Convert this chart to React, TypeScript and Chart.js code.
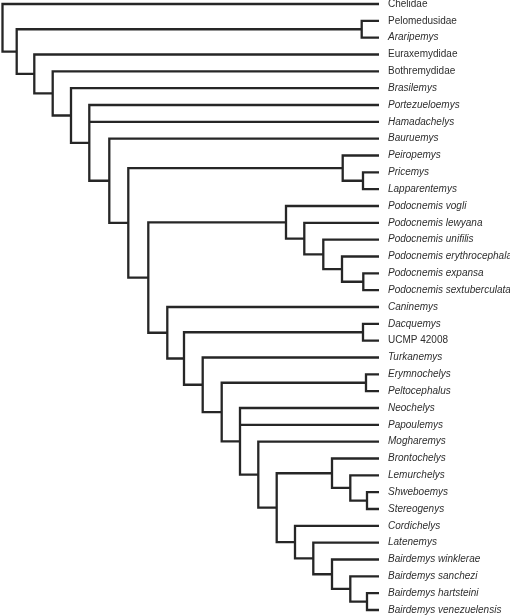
import React, { useEffect, useRef } from "react";
import { Chart, registerables } from "chart.js";

Chart.register(...registerables);

const TAXA = [
  "Chelidae",
  "Pelomedusidae",
  "Araripemys",
  "Euraxemydidae",
  "Bothremydidae",
  "Brasilemys",
  "Portezueloemys",
  "Hamadachelys",
  "Bauruemys",
  "Peiropemys",
  "Pricemys",
  "Lapparentemys",
  "Podocnemis vogli",
  "Podocnemis lewyana",
  "Podocnemis unifilis",
  "Podocnemis erythrocephala",
  "Podocnemis expansa",
  "Podocnemis sextuberculata",
  "Caninemys",
  "Dacquemys",
  "UCMP 42008",
  "Turkanemys",
  "Erymnochelys",
  "Peltocephalus",
  "Neochelys",
  "Papoulemys",
  "Mogharemys",
  "Brontochelys",
  "Lemurchelys",
  "Shweboemys",
  "Stereogenys",
  "Cordichelys",
  "Latenemys",
  "Bairdemys winklerae",
  "Bairdemys sanchezi",
  "Bairdemys hartsteini",
  "Bairdemys venezuelensis",
];

// Names shown upright (all others are italic genus/species names)
const ROMAN_TAXA = ["Chelidae", "Pelomedusidae", "Euraxemydidae", "Bothremydidae", "UCMP 42008"];

// Depth (horizontal position) of the tips
const TIP_DEPTH = 379;

// Internal nodes of the cladogram
const CLADE_NAMES = [
  "root", "n1", "pelo", "n2", "n3", "n4", "n5", "n6", "n7", "peiro", "pricLapp",
  "n8", "podo1", "podo2", "podo3", "podo4", "podo5", "n9", "n10", "dacq", "n11",
  "n12", "erym", "n13", "n14", "n15", "bronto1", "bronto2", "bronto3", "n16", "n17",
  "baird1", "baird2", "baird3",
];

const CLADE_DEPTHS = [
  2.5, 16.7, 361.7, 34.3, 52.7, 71, 89.3, 109.3, 128.3, 342.7, 363,
  148.3, 286, 304.3, 323.3, 342, 363.3, 167.3, 184, 363, 202.7,
  221.7, 366, 240, 258.3, 276.7, 332, 350.3, 367, 295, 313.3,
  332, 350.3, 367,
];

const CLADE_CHILDREN = [
  ["Chelidae", "n1"],
  ["pelo", "n2"],
  ["Pelomedusidae", "Araripemys"],
  ["Euraxemydidae", "n3"],
  ["Bothremydidae", "n4"],
  ["Brasilemys", "n5"],
  ["Portezueloemys", "Hamadachelys", "n6"],
  ["Bauruemys", "n7"],
  ["peiro", "n8"],
  ["Peiropemys", "pricLapp"],
  ["Pricemys", "Lapparentemys"],
  ["podo1", "n9"],
  ["Podocnemis vogli", "podo2"],
  ["Podocnemis lewyana", "podo3"],
  ["Podocnemis unifilis", "podo4"],
  ["Podocnemis erythrocephala", "podo5"],
  ["Podocnemis expansa", "Podocnemis sextuberculata"],
  ["Caninemys", "n10"],
  ["dacq", "n11"],
  ["Dacquemys", "UCMP 42008"],
  ["Turkanemys", "n12"],
  ["erym", "n13"],
  ["Erymnochelys", "Peltocephalus"],
  ["Neochelys", "Papoulemys", "n14"],
  ["Mogharemys", "n15"],
  ["bronto1", "n16"],
  ["Brontochelys", "bronto2"],
  ["Lemurchelys", "bronto3"],
  ["Shweboemys", "Stereogenys"],
  ["Cordichelys", "n17"],
  ["Latenemys", "baird1"],
  ["Bairdemys winklerae", "baird2"],
  ["Bairdemys sanchezi", "baird3"],
  ["Bairdemys hartsteini", "Bairdemys venezuelensis"],
];

const LINE_COLOR = "#262626";
const TEXT_COLOR = "#2e2e2e";
const FONT_FAMILY = "'Liberation Sans', Arial, Helvetica, sans-serif";

function depthOf(name: string): number {
  const ci = CLADE_NAMES.indexOf(name);
  return ci >= 0 ? CLADE_DEPTHS[ci] : TIP_DEPTH;
}

function yOf(name: string): number {
  const ti = TAXA.indexOf(name);
  if (ti >= 0) return ti;
  const ch = CLADE_CHILDREN[CLADE_NAMES.indexOf(name)];
  return (yOf(ch[0]) + yOf(ch[ch.length - 1])) / 2;
}

function buildPaths() {
  const paths: { x: number; y: number }[][] = [];
  CLADE_NAMES.forEach((_, ci) => {
    const x = CLADE_DEPTHS[ci];
    const ch = CLADE_CHILDREN[ci];
    const first = ch[0];
    const last = ch[ch.length - 1];
    paths.push([
      { x: depthOf(first), y: yOf(first) },
      { x, y: yOf(first) },
      { x, y: yOf(last) },
      { x: depthOf(last), y: yOf(last) },
    ]);
    ch.slice(1, -1).forEach((c) => {
      paths.push([
        { x, y: yOf(c) },
        { x: depthOf(c), y: yOf(c) },
      ]);
    });
  });
  return paths;
}

export default function App() {
  const canvasRef = useRef<HTMLCanvasElement | null>(null);

  useEffect(() => {
    if (!canvasRef.current) return;
    const paths = buildPaths();
    const chart = new Chart(canvasRef.current, {
      type: "line",
      data: {
        datasets: paths.map((p) => ({
          data: p,
          borderColor: LINE_COLOR,
          borderWidth: 2.3,
          pointRadius: 0,
          pointHoverRadius: 0,
          fill: false,
          tension: 0,
          borderCapStyle: "butt",
          borderJoinStyle: "miter",
          clip: false,
        })),
      },
      options: {
        animation: false,
        responsive: false,
        events: [],
        layout: { padding: { top: 4, bottom: 6, left: 0, right: 0 } },
        plugins: {
          legend: { display: false },
          tooltip: { enabled: false },
        },
        scales: {
          x: {
            type: "linear",
            min: 0,
            max: TIP_DEPTH,
            display: false,
          },
          y: {
            type: "linear",
            position: "right",
            reverse: true,
            min: 0,
            max: TAXA.length - 1,
            grid: { display: false, drawTicks: false },
            border: { display: false },
            afterBuildTicks: (scale: any) => {
              scale.ticks = TAXA.map((_, i) => ({ value: i }));
            },
            afterFit: (scale: any) => {
              scale.width = 131;
              scale.paddingTop = 0;
              scale.paddingBottom = 0;
            },
            ticks: {
              autoSkip: false,
              padding: 9,
              color: TEXT_COLOR,
              callback: (v: any) => TAXA[Math.round(Number(v))] ?? "",
              font: (ctx: any) => {
                const idx = ctx.tick ? Math.round(ctx.tick.value) : ctx.index;
                const name = TAXA[idx];
                return {
                  family: FONT_FAMILY,
                  size: 10,
                  style: ROMAN_TAXA.includes(name) ? "normal" : "italic",
                };
              },
            },
          },
        },
      } as any,
    });
    return () => chart.destroy();
  }, []);

  return (
    <div style={{ position: "absolute", left: 0, top: 0, width: 510, height: 616, background: "#ffffff" }}>
      <canvas ref={canvasRef} width={510} height={616} style={{ display: "block" }} />
    </div>
  );
}
